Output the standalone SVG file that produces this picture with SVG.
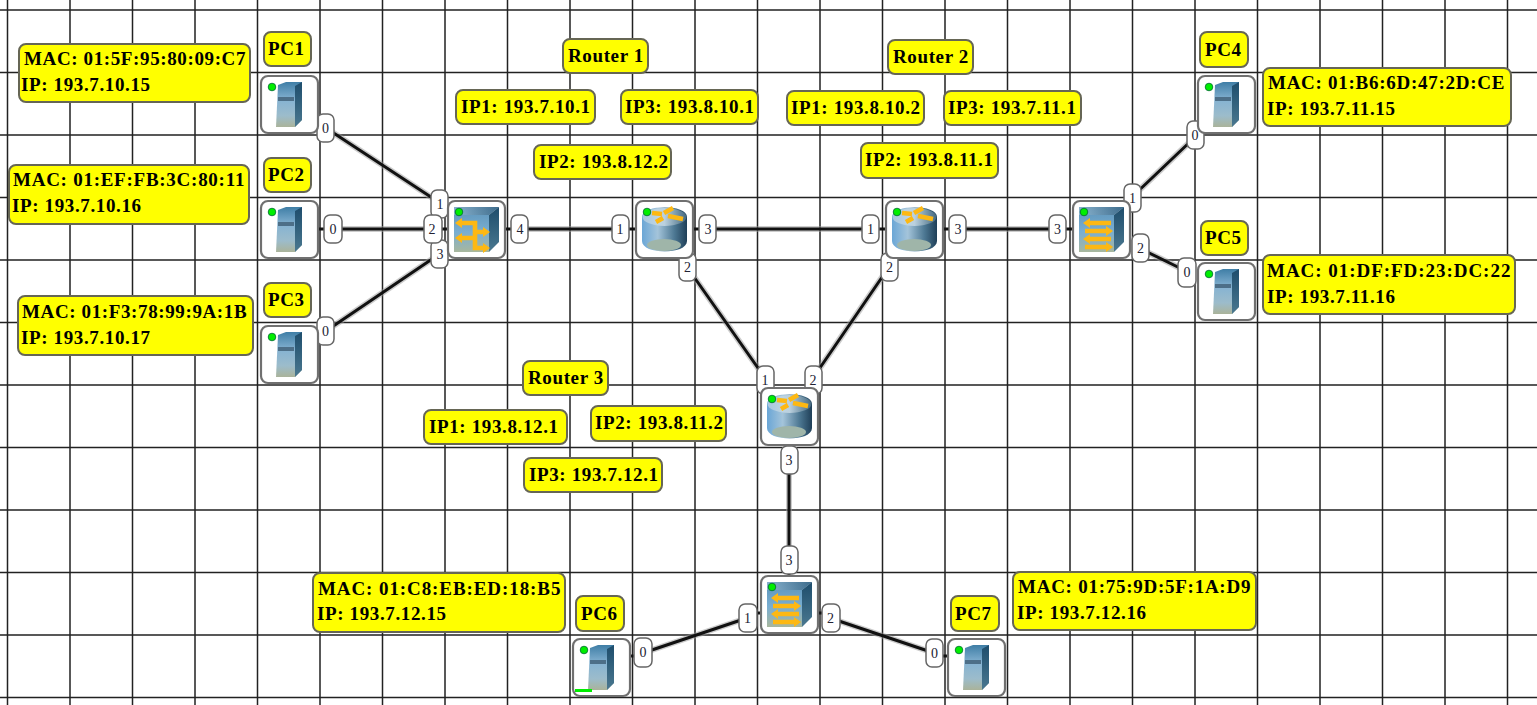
<svg xmlns="http://www.w3.org/2000/svg" width="1537" height="705" viewBox="0 0 1537 705">
<style>
.g{stroke:#222;stroke-width:1.5;fill:none}
.l{stroke:#999;stroke-width:6;fill:none;opacity:.5}
.c{stroke:#111;stroke-width:3;fill:none}
.box{fill:#fff;stroke:#707070;stroke-width:2.2}
.led{fill:#0e0;stroke:#063;stroke-width:.8}
.port{fill:#fff;stroke:#666;stroke-width:1.5}
.pt{font:14px "Liberation Serif",serif;fill:#223;text-anchor:middle}
.lab{fill:#ff0;stroke:#665;stroke-width:2}
.t{font:bold 19px "Liberation Serif",serif;fill:#000;letter-spacing:.62px}
.arrow{stroke:#fdb813;stroke-width:4.6;fill:none}
.head{fill:#fdb813}
</style>
<defs>
<linearGradient id="pcg" x1="0" y1="0" x2="0" y2="1"><stop offset="0" stop-color="#3f7ea6"/><stop offset=".4" stop-color="#86b3d2"/><stop offset=".75" stop-color="#9cbccb"/><stop offset="1" stop-color="#aab39a"/></linearGradient>
<linearGradient id="sideg" x1="0" y1="0" x2="0" y2="1"><stop offset="0" stop-color="#1e4d6c"/><stop offset="1" stop-color="#4a7890"/></linearGradient>
<linearGradient id="swg" x1="0" y1="0" x2="0" y2="1"><stop offset="0" stop-color="#5c93b8"/><stop offset=".55" stop-color="#79aed2"/><stop offset="1" stop-color="#a8b79e"/></linearGradient>
<linearGradient id="swt" x1="0" y1="0" x2="1" y2="0"><stop offset="0" stop-color="#a9c8dc"/><stop offset="1" stop-color="#234a66"/></linearGradient>
<linearGradient id="rg" x1="0" y1="0" x2="1" y2="0"><stop offset="0" stop-color="#6aa6d6"/><stop offset=".35" stop-color="#a4c4da"/><stop offset=".72" stop-color="#4d7893"/><stop offset="1" stop-color="#1f3f58"/></linearGradient>
<linearGradient id="rt" x1="0" y1="0" x2="1" y2="0"><stop offset="0" stop-color="#b6d0e2"/><stop offset=".5" stop-color="#c9dbe6"/><stop offset="1" stop-color="#4d7288"/></linearGradient>
<g id="pc">
<rect class="box" x="1" y="1" width="57" height="57" rx="7"/>
<path d="M18 10 L26 7 H42 V45 L35 52 H16Z" fill="url(#pcg)"/>
<path d="M35 11 L42 7 V45 L35 52Z" fill="url(#sideg)"/>
<rect x="18" y="22" width="16" height="4" fill="#4d6f88"/>
<circle class="led" cx="12" cy="12" r="3.8"/>
</g>
<g id="router">
<rect class="box" x="1" y="1" width="57" height="57" rx="7"/>
<path d="M7 17 C7 4 52 4 52 17 V41 C52 55 7 55 7 41Z" fill="url(#rg)"/>
<ellipse cx="29.500" cy="17" rx="22" ry="9" fill="url(#rt)" opacity=".8"/>
<ellipse cx="29" cy="45" rx="17" ry="6" fill="#9fb5a9"/>
<path d="M17 13 L27 14 M29 13 L38 8 M21 22 L28 18 M33 16 L48 19" stroke="#fdb813" stroke-width="4.6" fill="none"/>
<circle class="led" cx="12" cy="12" r="3.8"/>
</g>
<g id="swbase">
<rect class="box" x="1" y="1" width="57" height="57" rx="7"/>
<path d="M7 7 H52 L42 15 V52 H7Z" fill="url(#swg)"/>
<path d="M7 7 H52 L42 15 H7Z" fill="url(#swt)" opacity=".55"/>
<path d="M42 15 L52 7 V42 L42 52Z" fill="url(#sideg)"/>
<circle class="led" cx="12" cy="12" r="3.8"/>
</g>
<g id="sw4b">
<use href="#swbase"/>
<path class="arrow" d="M17 23 H39 M13 31 H35 M17 39 H39 M13 47 H35"/>
<path class="head" d="M11 23 L18 18 V28Z M41 31 L34 26 V36Z M11 39 L18 34 V44Z M41 47 L34 42 V52Z"/>
</g>
<g id="sw1">
<use href="#swbase"/>
<path class="arrow" d="M14 23 H28 V48 H38 M14 38 H28 M28 32 H38"/>
<path class="head" d="M8 23 L15 18 V28Z M8 38 L15 33 V43Z M43 32 L36 27 V37Z M43 48 L36 43 V53Z"/>
</g>
</defs>
<rect width="1537" height="705" fill="#fff"/>
<g id="grid">
<path class="g" d="M7.500 0V705M70 0V705M132.500 0V705M195 0V705M257.500 0V705M320 0V705M382.500 0V705M445 0V705M507.500 0V705M570 0V705M632.500 0V705M695 0V705M757.500 0V705M820 0V705M882.500 0V705M945 0V705M1007.500 0V705M1070 0V705M1132.500 0V705M1195 0V705M1257.500 0V705M1320 0V705M1382.500 0V705M1445 0V705M1507.500 0V705"/>
<path class="g" d="M0 10H1537M0 72.500H1537M0 135H1537M0 197.500H1537M0 260H1537M0 322.500H1537M0 385H1537M0 447.500H1537M0 510H1537M0 572.500H1537M0 635H1537M0 697.500H1537"/>
</g>
<g id="connectors">
<g class="l">
<path d="M326 128 L440 203M333 229H432M326 331 L438 255M520 229H620M708 229H870M687 267L765 378M889 267L813 378M958 229H1057M1193 139L1132 197M1141 249L1186 271M789 460V559M643 653L747 618M830 618L934 653"/>
</g>
<g class="c">
<path d="M326 128 L440 203M318 229H447M326 331 L438 255M505 229H635M693 229H885M687 267L765 378M889 267L813 378M943 229H1072M1193 139L1132 197M1141 249L1186 271M789 445V575M643 653L747 618M830 618L934 653M630 656H640M756 613H760M818 613H822M943 656H947"/>
</g>
</g>
<g id="ports">
<rect class="port" x="317" y="114" width="17" height="28" rx="6"/><text class="pt" x="325.500" y="133">0</text>
<rect class="port" x="431" y="190" width="17" height="28" rx="6"/><text class="pt" x="440" y="209">1</text>
<rect class="port" x="431" y="240" width="17" height="28" rx="6"/><text class="pt" x="440" y="259">3</text>
<rect class="port" x="324" y="215" width="18" height="28" rx="6"/><text class="pt" x="333" y="234">0</text>
<rect class="port" x="424" y="215" width="18" height="28" rx="6"/><text class="pt" x="432" y="234">2</text>
<rect class="port" x="317" y="317" width="17" height="28" rx="6"/><text class="pt" x="325.500" y="336">0</text>
<rect class="port" x="511" y="215" width="17" height="28" rx="6"/><text class="pt" x="520" y="234">4</text>
<rect class="port" x="612" y="215" width="17" height="28" rx="6"/><text class="pt" x="620" y="234">1</text>
<rect class="port" x="699" y="215" width="17" height="28" rx="6"/><text class="pt" x="708" y="234">3</text>
<rect class="port" x="679" y="253" width="17" height="28" rx="6"/><text class="pt" x="687.500" y="272">2</text>
<rect class="port" x="862" y="215" width="17" height="28" rx="6"/><text class="pt" x="870.500" y="234">1</text>
<rect class="port" x="949" y="215" width="17" height="28" rx="6"/><text class="pt" x="958" y="234">3</text>
<rect class="port" x="881" y="253" width="17" height="28" rx="6"/><text class="pt" x="889.500" y="272">2</text>
<rect class="port" x="1049" y="215" width="17" height="28" rx="6"/><text class="pt" x="1057.500" y="234">3</text>
<rect class="port" x="1124" y="184" width="17" height="28" rx="6"/><text class="pt" x="1132.500" y="203">1</text>
<rect class="port" x="1132" y="234" width="17" height="28" rx="6"/><text class="pt" x="1140.500" y="253">2</text>
<rect class="port" x="1187" y="121" width="17" height="28" rx="6"/><text class="pt" x="1195" y="140">0</text>
<rect class="port" x="1178" y="258" width="18" height="29" rx="6"/><text class="pt" x="1187" y="277">0</text>
<rect class="port" x="757" y="366" width="17" height="28" rx="6"/><text class="pt" x="765" y="385">1</text>
<rect class="port" x="805" y="366" width="17" height="28" rx="6"/><text class="pt" x="813" y="385">2</text>
<rect class="port" x="781" y="446" width="17" height="28" rx="6"/><text class="pt" x="789" y="465">3</text>
<rect class="port" x="781" y="546" width="17" height="28" rx="6"/><text class="pt" x="789" y="565">3</text>
<rect class="port" x="739" y="604" width="18" height="28" rx="6"/><text class="pt" x="747.500" y="623">1</text>
<rect class="port" x="822" y="604" width="18" height="28" rx="6"/><text class="pt" x="830.500" y="623">2</text>
<rect class="port" x="634" y="638" width="18" height="29" rx="6"/><text class="pt" x="643" y="657">0</text>
<rect class="port" x="926" y="639" width="17" height="28" rx="6"/><text class="pt" x="934.500" y="658">0</text>
</g>
<g id="pc1"><use href="#pc" x="260" y="75"/></g>
<g id="pc2"><use href="#pc" x="260" y="200"/></g>
<g id="pc3"><use href="#pc" x="260" y="325"/></g>
<g id="switch1"><use href="#sw1" x="447" y="200"/></g>
<g id="router1"><use href="#router" x="635" y="200"/></g>
<g id="router2"><use href="#router" x="885" y="200"/></g>
<g id="switch2"><use href="#sw4b" x="1072" y="200"/></g>
<g id="pc4"><use href="#pc" x="1197" y="75"/></g>
<g id="pc5"><use href="#pc" x="1197" y="262"/></g>
<g id="router3"><use href="#router" x="760" y="387"/></g>
<g id="switch3"><use href="#sw4b" x="760" y="575"/></g>
<g id="pc6"><use href="#pc" x="572" y="638"/><rect x="575" y="689" width="17" height="3" fill="#0e0"/></g>
<g id="pc7"><use href="#pc" x="947" y="638"/></g>
<g id="labels">
<g id="lab-pc1"><rect class="lab" x="264" y="32" width="47" height="34" rx="7"/><text class="t" x="268" y="55">PC1</text></g>
<g id="lab-mac1"><rect class="lab" x="19" y="44" width="231" height="58" rx="7"/><text class="t" x="24" y="65">MAC: 01:5F:95:80:09:C7</text><text class="t" x="21" y="91">IP: 193.7.10.15</text></g>
<g id="lab-pc2"><rect class="lab" x="264" y="158" width="47" height="34" rx="7"/><text class="t" x="268" y="181">PC2</text></g>
<g id="lab-mac2"><rect class="lab" x="9" y="165" width="240" height="59" rx="7"/><text class="t" x="13" y="186" textLength="232">MAC: 01:EF:FB:3C:80:11</text><text class="t" x="12" y="212">IP: 193.7.10.16</text></g>
<g id="lab-pc3"><rect class="lab" x="264" y="283" width="47" height="34" rx="7"/><text class="t" x="268" y="306">PC3</text></g>
<g id="lab-mac3"><rect class="lab" x="18" y="296" width="235" height="59" rx="7"/><text class="t" x="22" y="318">MAC: 01:F3:78:99:9A:1B</text><text class="t" x="21" y="344">IP: 193.7.10.17</text></g>
<g id="lab-r1"><rect class="lab" x="563" y="39" width="85" height="34" rx="7"/><text class="t" x="568" y="62">Router 1</text></g>
<g id="lab-r1a"><rect class="lab" x="456" y="90" width="139" height="34" rx="7"/><text class="t" x="461" y="113">IP1: 193.7.10.1</text></g>
<g id="lab-r1b"><rect class="lab" x="621" y="90" width="137" height="34" rx="7"/><text class="t" x="625" y="113">IP3: 193.8.10.1</text></g>
<g id="lab-r1c"><rect class="lab" x="534" y="145" width="137" height="34" rx="7"/><text class="t" x="539" y="168">IP2: 193.8.12.2</text></g>
<g id="lab-r2"><rect class="lab" x="888" y="40" width="85" height="34" rx="7"/><text class="t" x="893" y="63">Router 2</text></g>
<g id="lab-r2a"><rect class="lab" x="787" y="91" width="137" height="34" rx="7"/><text class="t" x="791" y="114">IP1: 193.8.10.2</text></g>
<g id="lab-r2b"><rect class="lab" x="944" y="91" width="137" height="34" rx="7"/><text class="t" x="948" y="114">IP3: 193.7.11.1</text></g>
<g id="lab-r2c"><rect class="lab" x="861" y="143" width="137" height="35" rx="7"/><text class="t" x="865" y="166">IP2: 193.8.11.1</text></g>
<g id="lab-pc4"><rect class="lab" x="1200" y="32" width="48" height="35" rx="7"/><text class="t" x="1205" y="56">PC4</text></g>
<g id="lab-mac4"><rect class="lab" x="1263" y="68" width="248" height="58" rx="7"/><text class="t" x="1268" y="89" textLength="237">MAC: 01:B6:6D:47:2D:CE</text><text class="t" x="1267" y="115">IP: 193.7.11.15</text></g>
<g id="lab-pc5"><rect class="lab" x="1201" y="221" width="47" height="34" rx="7"/><text class="t" x="1205" y="244">PC5</text></g>
<g id="lab-mac5"><rect class="lab" x="1263" y="255" width="252" height="59" rx="7"/><text class="t" x="1267" y="277" textLength="244">MAC: 01:DF:FD:23:DC:22</text><text class="t" x="1267" y="303">IP: 193.7.11.16</text></g>
<g id="lab-r3"><rect class="lab" x="523" y="361" width="85" height="34" rx="7"/><text class="t" x="528" y="384">Router 3</text></g>
<g id="lab-r3a"><rect class="lab" x="424" y="410" width="143" height="34" rx="7"/><text class="t" x="429" y="433">IP1: 193.8.12.1</text></g>
<g id="lab-r3b"><rect class="lab" x="591" y="406" width="135" height="35" rx="7"/><text class="t" x="595" y="429">IP2: 193.8.11.2</text></g>
<g id="lab-r3c"><rect class="lab" x="524" y="458" width="138" height="34" rx="7"/><text class="t" x="529" y="481">IP3: 193.7.12.1</text></g>
<g id="lab-mac6"><rect class="lab" x="313" y="573" width="252" height="59" rx="7"/><text class="t" x="318" y="595" textLength="243">MAC: 01:C8:EB:ED:18:B5</text><text class="t" x="317" y="620">IP: 193.7.12.15</text></g>
<g id="lab-pc6"><rect class="lab" x="576" y="596" width="48" height="35" rx="7"/><text class="t" x="581" y="620">PC6</text></g>
<g id="lab-pc7"><rect class="lab" x="951" y="596" width="48" height="35" rx="7"/><text class="t" x="955" y="620">PC7</text></g>
<g id="lab-mac7"><rect class="lab" x="1013" y="572" width="243" height="58" rx="7"/><text class="t" x="1018" y="593" textLength="233">MAC: 01:75:9D:5F:1A:D9</text><text class="t" x="1017" y="619">IP: 193.7.12.16</text></g>
</g>
</svg>
